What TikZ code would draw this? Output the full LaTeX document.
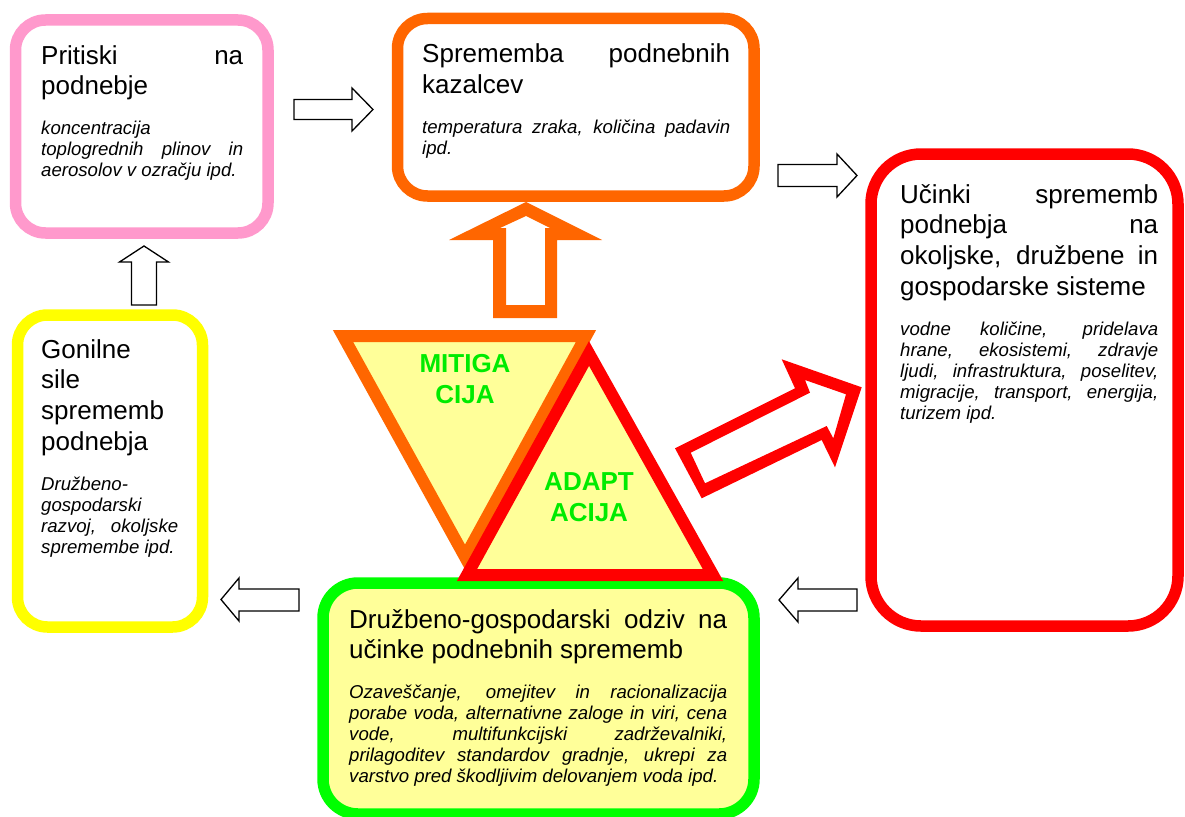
\documentclass[tikz,border=0pt]{standalone}
\usepackage{fontspec}
\setmainfont{Liberation Sans}
\definecolor{boxpink}{RGB}{255,153,204}
\definecolor{boxorange}{RGB}{255,102,0}
\definecolor{boxred}{RGB}{255,0,0}
\definecolor{boxyellow}{RGB}{255,255,0}
\definecolor{boxgreen}{RGB}{0,255,0}
\definecolor{palefill}{RGB}{255,255,153}
\definecolor{labelgreen}{RGB}{0,235,0}
\newcommand{\headfont}{\fontsize{26}{30.8}\selectfont}
\newcommand{\notefont}{\itshape\fontsize{18.6}{21}\selectfont}
\hyphenpenalty=10000
\tolerance=10000
\hbadness=10000
\tikzset{
	panel/.style={rectangle, rounded corners=30pt, line width=11.5pt, fill=white, inner sep=0pt},
	paneltext/.style={anchor=base west, inner sep=0pt, align=justify},
	hollow/.style={draw=black, fill=white, line width=1.3pt},
	triang/.style={line width=12pt, fill=palefill, line join=miter},
	tlabel/.style={anchor=base, inner sep=0pt, text width=150pt, align=center, text=labelgreen, font=\bfseries\fontsize{26}{31.5}\selectfont},
}

\begin{document}
\begin{tikzpicture}[x=1pt, y=-1pt]
	\useasboundingbox (0,0) rectangle (1185,816);
	% panels
	\node[panel, draw=boxpink, minimum width=252.5pt, minimum height=213pt] (pritiski) at (141.75,126.5) {};
	\node[panel, draw=boxorange, minimum width=356.5pt, minimum height=177.5pt] (kazalci) at (575.75,107.25) {};
	\node[panel, draw=boxred, rounded corners=50pt, minimum width=307pt, minimum height=472pt] (ucinki) at (1024.5,390) {};
	\node[panel, draw=boxyellow, minimum width=185pt, minimum height=312pt] (gonilne) at (110,471) {};
	\node[panel, draw=boxgreen, fill=palefill, rounded corners=35pt, minimum width=431pt, minimum height=231pt] (odziv) at (538.5,698.5) {};
	% hollow arrows between panels
	\draw[hollow] (294,99.5) -- (352,99.5) -- (352,88) -- (373,109.5) -- (352,131) -- (352,119.5) -- (294,119.5) -- cycle;
	\draw[hollow] (778,164.5) -- (837,164.5) -- (837,154) -- (857,175.5) -- (837,197) -- (837,186.5) -- (778,186.5) -- cycle;
	\draw[hollow] (131.5,305) -- (131.5,262) -- (119.5,262) -- (144,246) -- (168.5,262) -- (156.5,262) -- (156.5,305) -- cycle;
	\draw[hollow] (299,589) -- (239,589) -- (239,578) -- (221,599.5) -- (239,621) -- (239,611) -- (299,611) -- cycle;
	\draw[hollow] (857,589) -- (798,589) -- (798,578) -- (779,600) -- (798,622) -- (798,611) -- (857,611) -- cycle;
	% big arrows
	\fill[boxorange, even odd rule] (493,318) -- (557,318) -- (557,240) -- (602,240) -- (526,202) -- (449,240) -- (493,240) -- cycle
		(506,305) -- (545,305) -- (545,228) -- (550,228) -- (526,216) -- (500,228) -- (506,228) -- cycle;
	\fill[boxred, even odd rule] (675,448.3) -- (701.7,498.3) -- (821.7,440) -- (835,467.3) -- (861.7,387.3) -- (781.7,359.3) -- (795,388.3) -- cycle
		(690.7,452.7) -- (705,483.3) -- (826.7,426) -- (833.3,438.3) -- (846,394.3) -- (805,380) -- (810,392.7) -- cycle;
	% triangles
	\draw[triang, draw=boxorange] (343,336) -- (586,336) -- (465,557) -- cycle;
	\draw[triang, draw=boxred] (589,353.5) -- (713,575) -- (467,575) -- cycle;
	\node[tlabel] (mitigacija) at (465,372) {MITIGA\\CIJA};
	\node[tlabel] (adaptacija) at (589,490) {ADAPT\\ACIJA};
	% panel texts
	\node[paneltext, text width=202pt] (pritiski-txt) at (41,64) {{\headfont Pritiski na\linebreak podnebje\par}\vspace{19pt}{\notefont koncentracija\\ toplogrednih plinov in\linebreak aerosolov v ozračju ipd.\par}};
	\node[paneltext, text width=308pt] (kazalci-txt) at (422,63) {{\headfont Sprememba podnebnih\linebreak kazalcev\par}\vspace{19pt}{\notefont temperatura zraka, količina padavin\linebreak ipd.\par}};
	\node[paneltext, text width=258pt] (ucinki-txt) at (900,203) {{\headfont Učinki sprememb\linebreak podnebja na\linebreak okoljske, družbene in\linebreak gospodarske sisteme\par}\vspace{19pt}{\notefont vodne količine, pridelava\linebreak hrane, ekosistemi, zdravje\linebreak ljudi, infrastruktura, poselitev,\linebreak migracije, transport, energija,\linebreak turizem ipd.\par}};
	\node[paneltext, text width=137pt] (gonilne-txt) at (41,358) {{\headfont Gonilne\\ sile\\ sprememb\\ podnebja\par}\vspace{19pt}{\notefont Družbeno-\\ gospodarski\\ razvoj, okoljske\linebreak spremembe ipd.\par}};
	\node[paneltext, text width=378pt] (odziv-txt) at (349,628) {{\headfont Družbeno-gospodarski odziv na\linebreak učinke podnebnih sprememb\par}\vspace{19pt}{\notefont Ozaveščanje, omejitev in racionalizacija\linebreak porabe voda, alternativne zaloge in viri, cena\linebreak vode, multifunkcijski zadrževalniki,\linebreak prilagoditev standardov gradnje, ukrepi za\linebreak varstvo pred škodljivim delovanjem voda ipd.\par}};
\end{tikzpicture}
\end{document}
